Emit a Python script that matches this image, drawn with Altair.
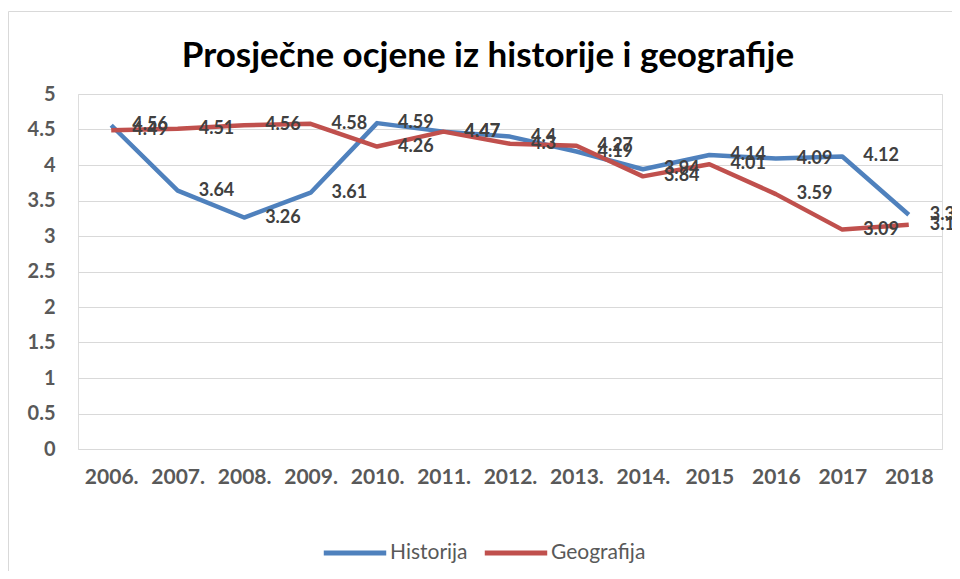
import altair as alt
import pandas as pd

years = ["2006.", "2007.", "2008.", "2009.", "2010.", "2011.", "2012.",
         "2013.", "2014.", "2015", "2016", "2017", "2018"]
historija = [4.56, 3.64, 3.26, 3.61, 4.59, 4.47, 4.4, 4.19, 3.94, 4.14, 4.09, 4.12, 3.3]
geografija = [4.49, 4.51, 4.56, 4.58, 4.26, 4.47, 4.3, 4.27, 3.84, 4.01, 3.59, 3.09, 3.16]
series = ["Historija", "Geografija"]
colors = ["#4F81BD", "#C0504D"]
y_ticks = [0, 0.5, 1, 1.5, 2, 2.5, 3, 3.5, 4, 4.5, 5]
title_text = "Prosječne ocjene iz historije i geografije"

rows = []
for name, vals in zip(series, [historija, geografija]):
    for i, (yr, v) in enumerate(zip(years, vals)):
        rows.append({"year": yr, "value": v, "series": name, "idx": i})
df = pd.DataFrame(rows)

FONT = "Lato"
W, H = 864, 355

x_enc = alt.X("year:N", sort=years,
              axis=alt.Axis(title=None, labelAngle=0, ticks=False, domain=False,
                            labelFont=FONT, labelFontSize=21, labelFontWeight="bold",
                            labelColor="#595959", labelPadding=17, grid=False))
y_enc = alt.Y("value:Q", scale=alt.Scale(domain=[0, 5], nice=False),
              axis=alt.Axis(title=None, values=y_ticks, format=".1~f", ticks=False,
                            domain=False, grid=True, gridColor="#d9d9d9", gridWidth=1,
                            labelOverlap=False, labelFont=FONT, labelFontSize=20,
                            labelFontWeight="bold", labelColor="#595959", labelPadding=23))
color_enc = alt.Color("series:N", sort=series,
                      scale=alt.Scale(domain=series, range=colors),
                      legend=alt.Legend(title=None, orient="none", legendX=243, legendY=425,
                                        direction="horizontal", symbolType="stroke",
                                        symbolStrokeWidth=5, symbolSize=3900,
                                        labelFont=FONT, labelFontSize=21, labelColor="#595959",
                                        labelOffset=1, columnPadding=6))

base = alt.Chart(df).encode(x=x_enc, y=y_enc)

border = alt.Chart(pd.DataFrame({"a": [0]})).mark_rect(
    fill=None, stroke="#d9d9d9", strokeWidth=1
).encode(x=alt.value(-69.5), x2=alt.value(W + 40), y=alt.value(-82.5), y2=alt.value(H + 160))

title = alt.Chart(pd.DataFrame({"t": [title_text]})).mark_text(
    font=FONT, fontSize=35, fontWeight="bold", color="#000000",
    align="center", baseline="alphabetic"
).encode(text="t:N", x=alt.value(W / 2 - 22), y=alt.value(-27))

lines = base.mark_line(strokeWidth=4.5, strokeJoin="round").encode(
    color=color_enc, order="idx:Q"
)

labels = base.mark_text(
    align="left", baseline="middle", dx=21, font=FONT, fontSize=18,
    fontWeight="bold", color="#404040"
).encode(text=alt.Text("value:Q", format=".2~f"))

chart = alt.layer(lines, labels, border, title).properties(
    width=W, height=H,
    autosize=alt.AutoSizeParams(type="none"),
    padding={"left": 70, "top": 86, "right": 10, "bottom": 122},
).configure_view(stroke=None).configure(background="white")

chart.save("out.html", embed_options={"renderer": "svg", "actions": False})
